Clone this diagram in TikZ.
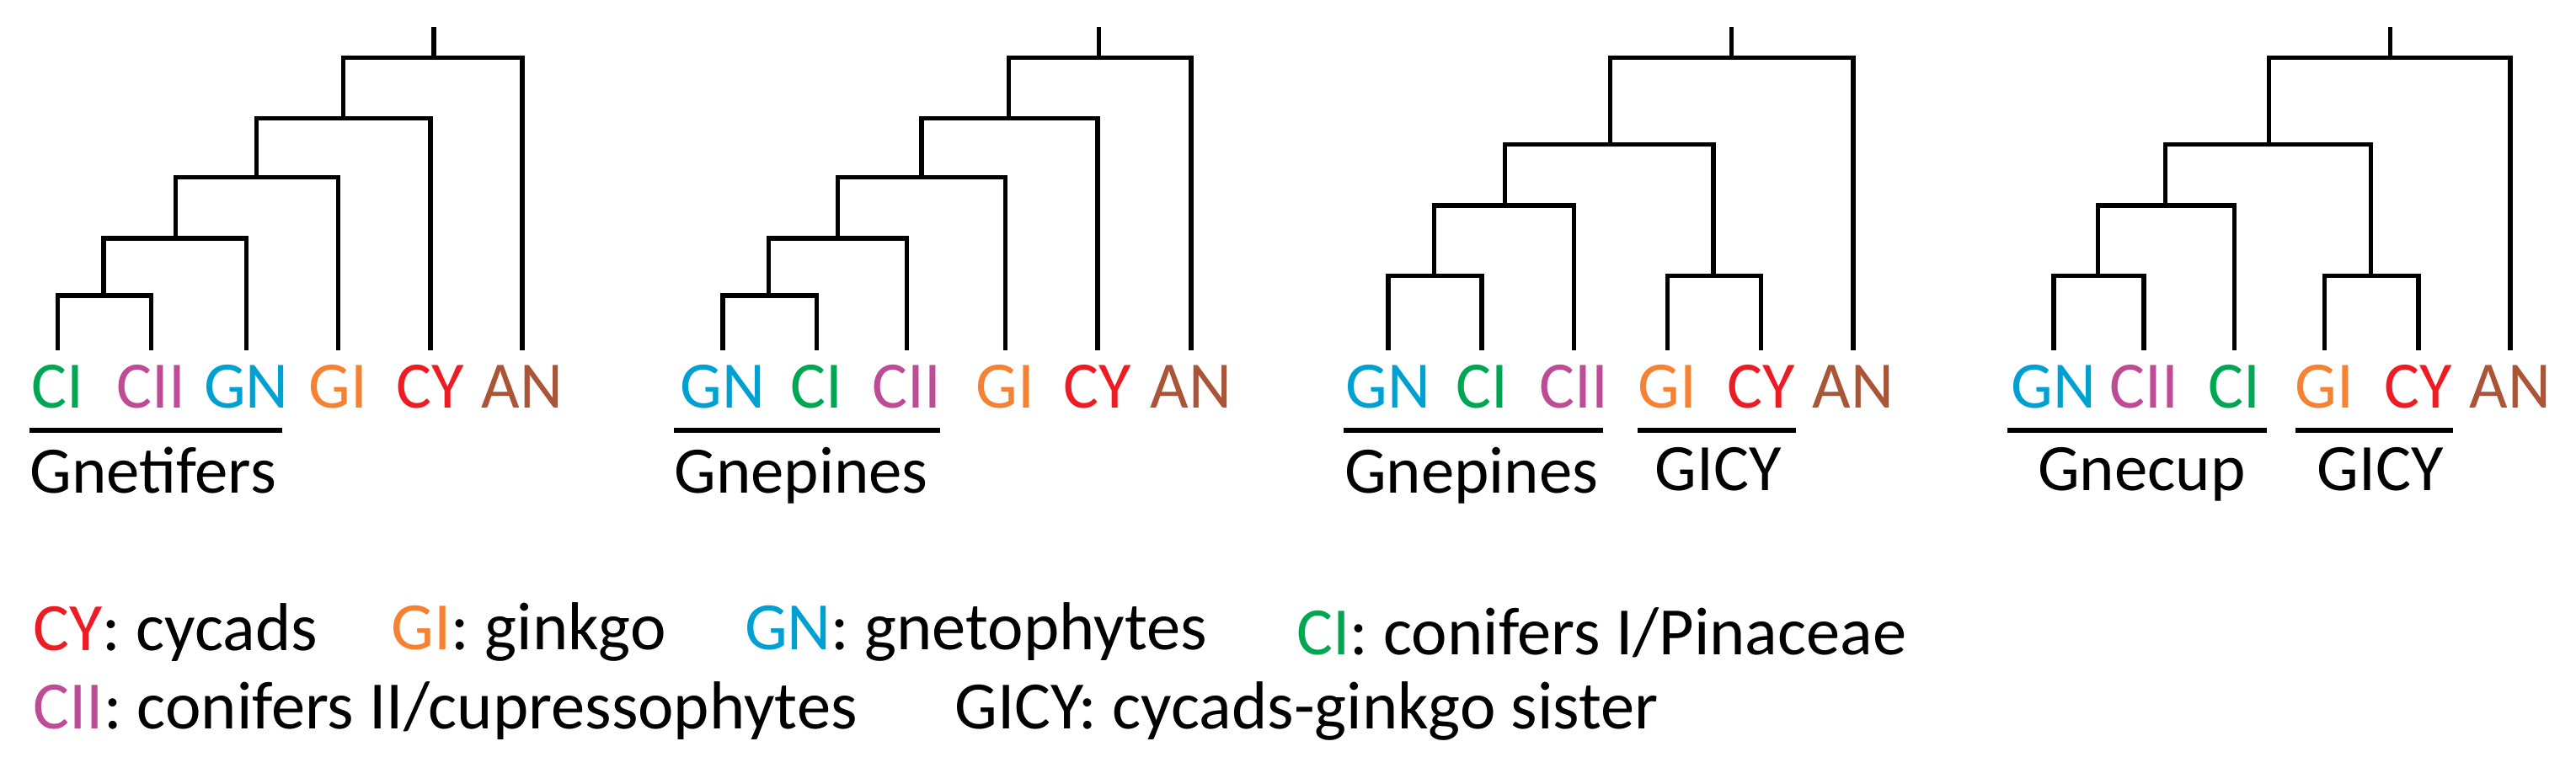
\documentclass[tikz,border=0pt]{standalone}
\usepackage{fontspec}
\setmainfont{Carlito}
\definecolor{cCI}{RGB}{0,166,81}
\definecolor{cCII}{RGB}{190,75,150}
\definecolor{cGN}{RGB}{0,160,210}
\definecolor{cGI}{RGB}{245,130,50}
\definecolor{cCY}{RGB}{237,28,36}
\definecolor{cAN}{RGB}{170,85,55}
\begin{document}
\begin{tikzpicture}[x=0.02cm,y=-0.02cm,
  br/.style={line width=1.6pt,line cap=rect},
  ul/.style={line width=2pt},
  leaf/.style={anchor=north,inner sep=0pt,font=\fontsize{23}{25}\selectfont},
  grp/.style={anchor=north west,inner sep=0pt,font=\fontsize{23}{25}\selectfont},
  leg/.style={anchor=west,inner sep=0pt,font=\fontsize{23.5}{25}\selectfont}]
\useasboundingbox (0,0) rectangle (1568,477);
% ---------- tree 1
\coordinate (a1) at (35,212); \coordinate (a2) at (92,212); \coordinate (a3) at (150,212);
\coordinate (a4) at (206,212); \coordinate (a5) at (262,212); \coordinate (a6) at (318,212);
\node[leaf,text=cCI] (l11) at (35,222) {CI};
\node[leaf,text=cCII] (l12) at (92,222) {CII};
\node[leaf,text=cGN] (l13) at (150,222) {GN};
\node[leaf,text=cGI] (l14) at (206,222) {GI};
\node[leaf,text=cCY] (l15) at (262,222) {CY};
\node[leaf,text=cAN] (l16) at (318,222) {AN};
\draw[br] (a1) |- (63,180) -| (a2);
\draw[br] (63,180) |- (107,145) -| (a3);
\draw[br] (107,145) |- (156,108) -| (a4);
\draw[br] (156,108) |- (209,72) -| (a5);
\draw[br] (209,72) |- (264,35) -| (a6);
\draw[br] (264,35) -- (264,18);
\draw[ul] (18,262) -- (172,262);
\node[grp] (g1) at (18,272) {Gnetifers};
% ---------- tree 2
\coordinate (b1) at (440,212); \coordinate (b2) at (497,212); \coordinate (b3) at (552,212);
\coordinate (b4) at (612,212); \coordinate (b5) at (668,212); \coordinate (b6) at (725,212);
\node[leaf,text=cGN] (l21) at (440,222) {GN};
\node[leaf,text=cCI] (l22) at (497,222) {CI};
\node[leaf,text=cCII] (l23) at (552,222) {CII};
\node[leaf,text=cGI] (l24) at (612,222) {GI};
\node[leaf,text=cCY] (l25) at (668,222) {CY};
\node[leaf,text=cAN] (l26) at (725,222) {AN};
\draw[br] (b1) |- (468,180) -| (b2);
\draw[br] (468,180) |- (510,145) -| (b3);
\draw[br] (510,145) |- (561,108) -| (b4);
\draw[br] (561,108) |- (614,72) -| (b5);
\draw[br] (614,72) |- (669,35) -| (b6);
\draw[br] (669,35) -- (669,18);
\draw[ul] (410,262) -- (572,262);
\node[grp] (g2) at (410,272) {Gnepines};
% ---------- tree 3
\coordinate (c1) at (845,212); \coordinate (c2) at (902,212); \coordinate (c3) at (958,212);
\coordinate (c4) at (1015,212); \coordinate (c5) at (1072,212); \coordinate (c6) at (1128,212);
\node[leaf,text=cGN] (l31) at (845,222) {GN};
\node[leaf,text=cCI] (l32) at (902,222) {CI};
\node[leaf,text=cCII] (l33) at (958,222) {CII};
\node[leaf,text=cGI] (l34) at (1015,222) {GI};
\node[leaf,text=cCY] (l35) at (1072,222) {CY};
\node[leaf,text=cAN] (l36) at (1128,222) {AN};
\draw[br] (c1) |- (873,168) -| (c2);
\draw[br] (873,168) |- (916,125) -| (c3);
\draw[br] (c4) |- (1043,168) -| (c5);
\draw[br] (916,125) |- (980,88) -| (1043,168);
\draw[br] (980,88) |- (1054,35) -| (c6);
\draw[br] (1054,35) -- (1054,18);
\draw[ul] (818,262) -- (976,262);
\draw[ul] (997,262) -- (1093,262);
\node[grp] (g3) at (818,272) {Gnepines};
\node[grp] (g4) at (1007,272) {GICY};
% ---------- tree 4
\coordinate (d1) at (1250,212); \coordinate (d2) at (1305,212); \coordinate (d3) at (1360,212);
\coordinate (d4) at (1415,212); \coordinate (d5) at (1472,212); \coordinate (d6) at (1528,212);
\node[leaf,text=cGN] (l41) at (1250,222) {GN};
\node[leaf,text=cCII] (l42) at (1305,222) {CII};
\node[leaf,text=cCI] (l43) at (1360,222) {CI};
\node[leaf,text=cGI] (l44) at (1415,222) {GI};
\node[leaf,text=cCY] (l45) at (1472,222) {CY};
\node[leaf,text=cAN] (l46) at (1528,222) {AN};
\draw[br] (d1) |- (1277,168) -| (d2);
\draw[br] (1277,168) |- (1318,125) -| (d3);
\draw[br] (d4) |- (1443,168) -| (d5);
\draw[br] (1318,125) |- (1381,88) -| (1443,168);
\draw[br] (1381,88) |- (1455,35) -| (d6);
\draw[br] (1455,35) -- (1455,18);
\draw[ul] (1222,262) -- (1380,262);
\draw[ul] (1397,262) -- (1493,262);
\node[grp] (g5) at (1240,272) {Gnecup};
\node[grp] (g6) at (1410,272) {GICY};
% ---------- legend
\node[leg] (e1) at (20,385) {\textcolor{cCY}{CY}: cycads};
\node[leg] (e2) at (238,385) {\textcolor{cGI}{GI}: ginkgo};
\node[leg] (e3) at (453,385) {\textcolor{cGN}{GN}: gnetophytes};
\node[leg] (e4) at (789,385) {\textcolor{cCI}{CI}: conifers I/Pinaceae};
\node[leg] (e5) at (20,433) {\textcolor{cCII}{CII}: conifers II/cupressophytes};
\node[leg] (e6) at (581,433) {GICY: cycads-ginkgo sister};
\end{tikzpicture}
\end{document}
